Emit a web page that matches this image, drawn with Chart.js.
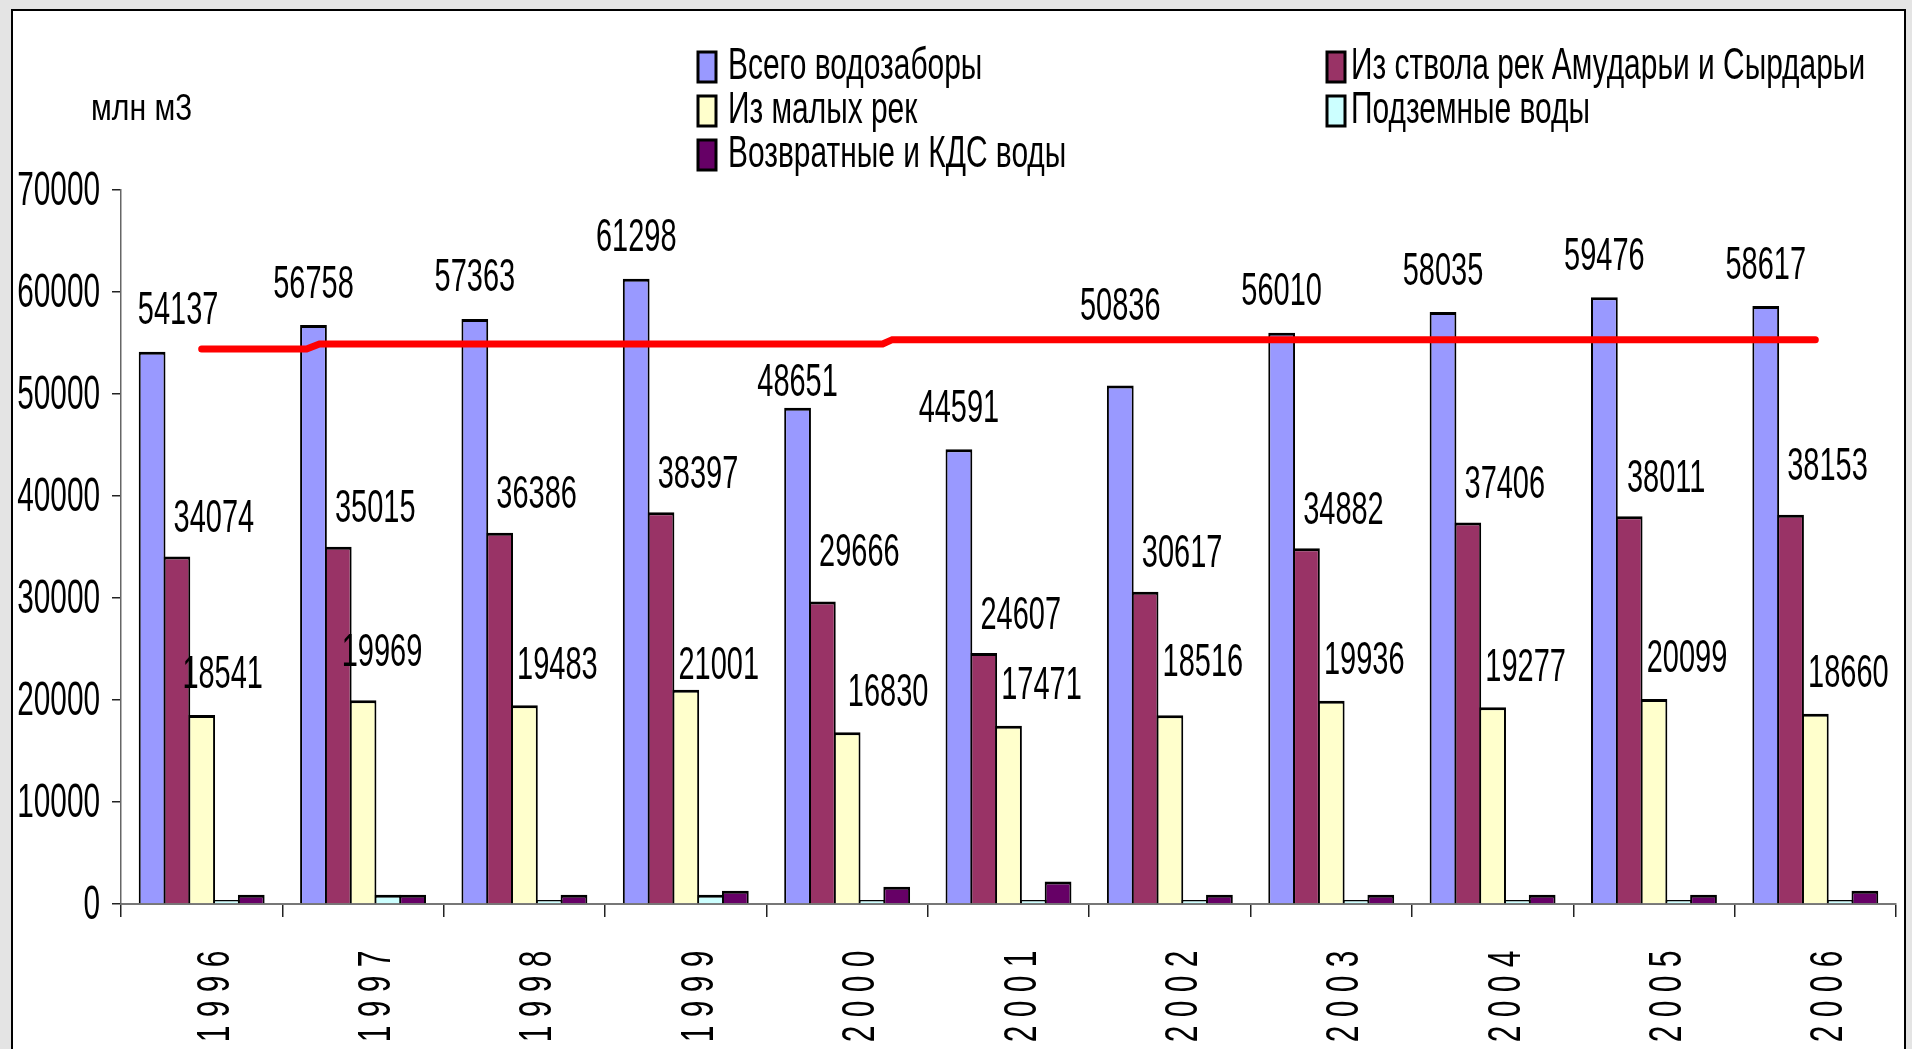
<!DOCTYPE html>
<html>
<head>
<meta charset="utf-8">
<script src="https://cdn.jsdelivr.net/npm/chart.js@4.4.0/dist/chart.umd.min.js"></script>
<style>
  html, body { margin: 0; padding: 0; background: #e4e4e4; }
  #wrap { width: 1912px; height: 1049px; }
</style>
</head>
<body>
<div id="wrap"><canvas id="waterCanvas" width="1912" height="1049"></canvas></div>
<script>
// years
const years = ['1996', '1997', '1998', '1999', '2000', '2001', '2002', '2003', '2004', '2005', '2006'];

// млн м3
const totalIntake = [54137, 56758, 57363, 61298, 48651, 44591, 50836, 56010, 58035, 59476, 58617];
const mainRivers = [34074, 35015, 36386, 38397, 29666, 24607, 30617, 34882, 37406, 38011, 38153];
const smallRivers = [18541, 19969, 19483, 21001, 16830, 17471, 18516, 19936, 19277, 20099, 18660];
const groundWater = [400, 900, 400, 900, 400, 400, 400, 400, 400, 400, 400];
const returnWater = [900, 900, 900, 1300, 1700, 2200, 900, 900, 900, 900, 1300];

// red reference line (position along the years axis, value)
const redLineAt = [0, 0.65, 0.73, 4.22, 4.28, 10];
const redLineValue = [54400, 54400, 54900, 54900, 55330, 55330];

const yTicks = [0, 10000, 20000, 30000, 40000, 50000, 60000, 70000];

const seriesNames = ['Всего водозаборы', 'Из ствола рек Амударьи и Сырдарьи', 'Из малых рек', 'Подземные воды', 'Возвратные и КДС воды'];
const colors = ['#9999FF', '#993366', '#FFFFCC', '#CCFFFF', '#660066'];

const FONT = '"Liberation Sans", Arial, sans-serif';

function squeezeText(ctx, txt, x, y, size, sx, align) {
  ctx.save();
  ctx.font = size + 'px ' + FONT;
  ctx.textBaseline = 'alphabetic';
  ctx.textAlign = align || 'left';
  ctx.fillStyle = '#000';
  ctx.translate(x, y);
  ctx.scale(sx, 1);
  ctx.fillText(txt, 0, 0);
  ctx.restore();
}

// label tweaks: [dataset, index] -> extra dx, dy
const labelShift = {
  '0:0': [26, 0], '0:4': [0, -16], '0:6': [0, 38],
  '1:4': [0, 11], '1:10': [0, 10],
  '2:0': [-12, 0], '2:1': [-14, 8], '2:3': [0, -16], '2:4': [8, 0], '2:6': [0, 13]
};
const labelOffset = [[0, 44], [37, 41], [33, 43]];

const decor = {
  id: 'decor',
  beforeDraw(chart) {
    const ctx = chart.ctx;
    ctx.save();
    ctx.fillStyle = '#e4e4e4';
    ctx.fillRect(0, 0, chart.width, chart.height);
    ctx.fillStyle = '#ffffff';
    ctx.fillRect(12, 10, 1893, 1060);
    ctx.strokeStyle = '#000';
    ctx.lineWidth = 2;
    ctx.strokeRect(12, 10, 1893, 1060);
    ctx.restore();
  },
  afterDraw(chart) {
    const ctx = chart.ctx;
    const ys = chart.scales.y;
    const xs = chart.scales.x;

    // unit
    squeezeText(ctx, 'млн м3', 91, 120, 36, 0.84, 'left');

    // y tick labels
    yTicks.forEach(v => {
      const py = ys.getPixelForValue(v);
      squeezeText(ctx, String(v), 100, py - 2 + 17, 48, 0.62, 'right');
    });

    // x labels, rotated, spaced
    years.forEach((yr, i) => {
      const cx = xs.getPixelForValue(i);
      const n = yr.length;
      for (let k = 0; k < n; k++) {
        const cy = 959 + (n - 1 - k) * 25;
        ctx.save();
        ctx.translate(cx + 27, cy);
        ctx.rotate(-Math.PI / 2);
        ctx.scale(0.65, 1);
        ctx.font = '46px ' + FONT;
        ctx.textAlign = 'center';
        ctx.textBaseline = 'alphabetic';
        ctx.fillStyle = '#000';
        ctx.fillText(yr[k], 0, 0);
        ctx.restore();
      }
    });

    // value labels
    [0, 1, 2].forEach(d => {
      const meta = chart.getDatasetMeta(d);
      meta.data.forEach((bar, i) => {
        const sh = labelShift[d + ':' + i] || [0, 0];
        const x = bar.x + labelOffset[d][0] + sh[0];
        const cy = bar.y - labelOffset[d][1] - sh[1];
        squeezeText(ctx, String(chart.data.datasets[d].data[i].y), x, cy + 16.5, 46, 0.63, 'center');
      });
    });

    // legend
    const spots = [[698, 52], [1327, 52], [698, 96], [1327, 96], [698, 140]];
    spots.forEach((p, i) => {
      ctx.save();
      ctx.fillStyle = colors[i];
      ctx.fillRect(p[0], p[1], 18, 30);
      ctx.strokeStyle = '#000';
      ctx.lineWidth = 3;
      ctx.strokeRect(p[0], p[1], 18, 30);
      ctx.restore();
      const tx = p[0] < 1000 ? p[0] + 30 : p[0] + 24;
      squeezeText(ctx, seriesNames[i], tx, p[1] + 11 + 15.5, 44, 0.68, 'left');
    });
  }
};

function barSet(label, values, color) {
  return {
    type: 'bar',
    label: label,
    data: values.map((v, i) => ({ x: i, y: v })),
    backgroundColor: color,
    borderColor: '#000',
    borderWidth: { top: 3, left: 2, right: 2, bottom: 0 },
    borderSkipped: false,
    categoryPercentage: 0.768,
    barPercentage: 1.08,
    xAxisID: 'xl',
    yAxisID: 'y'
  };
}

const ctx = document.getElementById('waterCanvas');
const chart = new Chart(ctx, {
  type: 'bar',
  data: {
    labels: years,
    datasets: [
      barSet(seriesNames[0], totalIntake, colors[0]),
      barSet(seriesNames[1], mainRivers, colors[1]),
      barSet(seriesNames[2], smallRivers, colors[2]),
      barSet(seriesNames[3], groundWater, colors[3]),
      barSet(seriesNames[4], returnWater, colors[4]),
      {
        type: 'line',
        label: 'line',
        data: redLineAt.map((p, i) => ({ x: p, y: redLineValue[i] })),
        borderColor: '#FF0000',
        borderWidth: 7,
        borderCapStyle: 'round',
        borderJoinStyle: 'miter',
        pointRadius: 0,
        tension: 0,
        fill: false,
        order: -1,
        xAxisID: 'xl',
        yAxisID: 'y'
      }
    ]
  },
  options: {
    responsive: false,
    animation: false,
    events: [],
    layout: { padding: { left: 112, right: 16, top: 190, bottom: 132 } },
    plugins: { legend: { display: false }, tooltip: { enabled: false } },
    scales: {
      x: {
        type: 'category',
        offset: true,
        grid: { drawOnChartArea: false, drawTicks: true, tickLength: 13, color: '#222', lineWidth: 1.5, offset: true },
        border: { display: true, color: '#777', width: 2 },
        ticks: { display: false }
      },
      xl: {
        type: 'linear',
        display: false,
        offset: false,
        min: -0.5,
        max: 10.5,
        afterBuildTicks: s => { s.ticks = years.map((y, i) => ({ value: i })); }
      },
      y: {
        min: 0,
        max: 70000,
        ticks: { display: false, stepSize: 10000 },
        grid: { drawOnChartArea: false, drawTicks: true, tickLength: 9, color: '#222', lineWidth: 1.5 },
        border: { display: true, color: '#666', width: 1.5 }
      }
    }
  },
  plugins: [decor]
});
</script>
</body>
</html>
